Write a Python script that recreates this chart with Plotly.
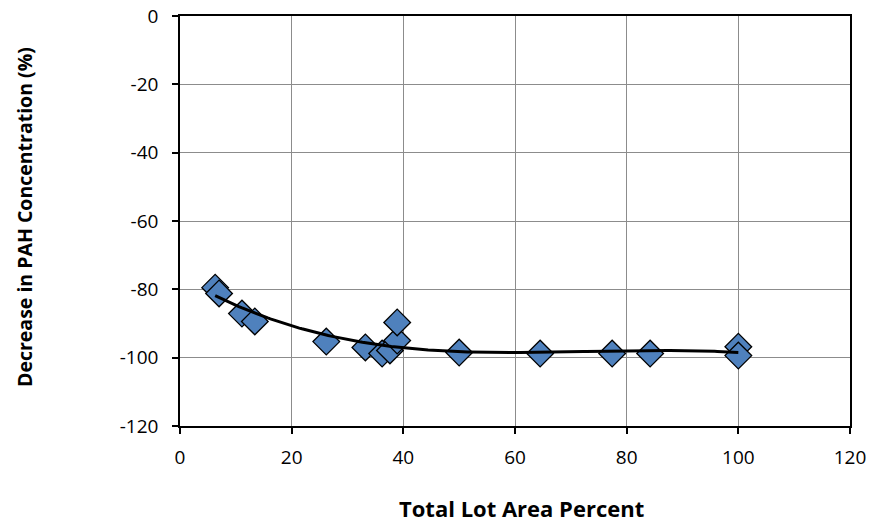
import numpy as np
import plotly.graph_objects as go

# Total lot area (%) and the matching change in PAH concentration (%)
lot_area_pct = [6.3, 7.0, 11.1, 13.4, 26.2, 33.2, 36.2, 37.6, 38.9, 38.9,
                50.0, 64.5, 77.4, 84.2, 100.0, 100.0]
pah_change_pct = [-79.5, -81.2, -87.1, -89.4, -95.3, -97.0, -98.8, -97.9, -95.0, -89.7,
                  -98.5, -98.8, -98.8, -98.8, -96.8, -99.4]

x_ticks = [0, 20, 40, 60, 80, 100, 120]
y_ticks = [0, -20, -40, -60, -80, -100, -120]

# Third-order polynomial trendline through the measurements
coef = np.polyfit(lot_area_pct, pah_change_pct, 3)
xs = np.linspace(min(lot_area_pct), max(lot_area_pct), 200)
ys = np.polyval(coef, xs)

fig = go.Figure()
fig.add_trace(go.Scatter(
    x=lot_area_pct, y=pah_change_pct, mode="markers",
    marker=dict(symbol="diamond", size=20.5, color="#4F81BD",
                line=dict(color="black", width=1.3)),
    showlegend=False,
))
fig.add_trace(go.Scatter(
    x=xs, y=ys, mode="lines",
    line=dict(color="black", width=3), showlegend=False,
))

font_family = "Open Sans, Liberation Sans, sans-serif"
axis_common = dict(
    showgrid=True, gridcolor="#8c8c8c", gridwidth=1,
    showline=True, linecolor="black", linewidth=1.5, mirror=True,
    ticks="outside", ticklen=6, tickcolor="black", tickwidth=1.5,
    zeroline=False, automargin=False,
    tickfont=dict(family=font_family, size=19, color="black"),
)
fig.update_xaxes(range=[0, 120], tickvals=x_ticks,
                 ticktext=[str(v) for v in x_ticks], ticklabelstandoff=7, **axis_common)
fig.update_yaxes(range=[-120, 0], tickvals=y_ticks,
                 ticktext=[str(v) for v in y_ticks], ticklabelstandoff=10, **axis_common)

fig.add_annotation(text="<b>Total Lot Area Percent</b>", xref="paper", yref="paper",
                   x=(521 - 180) / 670, y=-(508 - 426) / 410, xanchor="center",
                   yanchor="middle", showarrow=False,
                   font=dict(family=font_family, size=22, color="black"))
fig.add_annotation(text="<b>Decrease in PAH Concentration (%)</b>", xref="paper",
                   yref="paper", x=-(180 - 24) / 670, y=(426 - 217) / 410,
                   xanchor="center", yanchor="middle", textangle=-90,
                   showarrow=False, font=dict(family=font_family, size=19.5, color="black"))

fig.update_layout(
    width=871, height=525,
    margin=dict(l=180, r=21, t=16, b=99),
    plot_bgcolor="white", paper_bgcolor="white",
)

fig.write_html("out.html")
